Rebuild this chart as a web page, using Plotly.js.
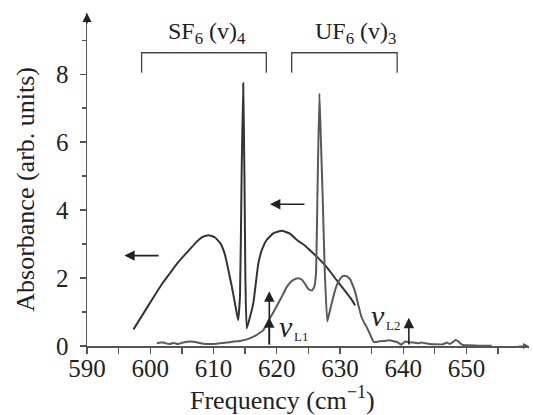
<!DOCTYPE html>
<html>
<head>
<meta charset="utf-8">
<script src="https://cdn.plot.ly/plotly-3.0.1.min.js"></script>
<style>html,body{margin:0;padding:0;background:#fff;}#chart{width:533px;height:415px;}</style>
</head>
<body>
<div id="chart"></div>
<script>
// Curve A: SF6-dominated broad band with sharp feature
const freqA = [597.35,598.93,600.5,602.1,603.1,604.5,605.8,607.1,608.15,609.2,610.2,611.1,611.8,612.35,612.9,613.4,613.9,614.2,614.45,614.7,614.9,615.05,615.26,615.7,616.3,617.1,617.7,618.4,619.5,620.8,622.1,623.2,624.5,625.0,626.5,628.0,629.5,630.8,631.8,632.4];
const absA  = [0.49,0.96,1.43,1.89,2.14,2.48,2.75,3.02,3.2,3.26,3.20,3.02,2.70,2.24,1.75,1.26,0.76,1.5,5.0,7.73,5.0,2.0,0.52,0.8,1.26,2.43,2.85,3.12,3.32,3.39,3.31,3.12,2.95,2.86,2.6,2.3,1.93,1.62,1.38,1.2];
// Curve B: UF6-dominated band
const freqB = [601.05,601.6,602.1,602.6,603.1,603.6,603.9,604.4,605.2,606.3,607.1,608.0,608.7,610.0,611.0,612.1,613.2,614.2,615.0,615.8,616.8,617.5,617.9,618.4,618.9,619.5,620.25,621.0,621.6,622.3,623.0,623.5,624.0,624.5,625.0,625.5,625.9,626.2,626.45,626.75,627.0,627.3,627.6,628.0,628.3,628.7,629.1,629.5,630.0,630.5,631.1,631.6,632.0,632.4,632.9,633.4,633.8,634.2,634.8,635.3,635.8,636.3,637.0,637.9,638.5,639.0,639.7,640.3,641.0,641.6,642.3,642.9,643.5,644.2,645.3,646.3,646.9,647.4,647.9,648.3,648.7,649.0,649.5,650.5,652,654];
const absB  = [0.08,0.1,0.1,0.07,0.06,0.09,0.08,0.06,0.1,0.13,0.12,0.08,0.06,0.06,0.08,0.1,0.13,0.15,0.18,0.23,0.32,0.41,0.47,0.64,0.81,1.0,1.26,1.52,1.74,1.9,1.98,1.99,1.95,1.82,1.68,1.63,1.72,2.1,4.5,7.43,6.0,4.2,2.2,0.72,0.95,1.26,1.55,1.79,1.97,2.06,2.05,1.97,1.8,1.6,1.21,0.86,0.7,0.57,0.33,0.13,0.12,0.14,0.15,0.17,0.14,0.12,0.04,0.13,0.11,0.1,0.08,0.1,0.08,0.06,0.05,0.05,0.1,0.06,0.12,0.18,0.14,0.08,0.03,0.02,0.01,0.01];

// Labels and annotation anchors
const xTicks = [590,600,610,620,630,640,650];
const yTicks = [0,2,4,6,8];
const bandLabels = ['SF<sub>6</sub> (v)<sub>4</sub>', 'UF<sub>6</sub> (v)<sub>3</sub>'];
const bandCenters = [608.9, 632.4];
const bracketSF = [598.64, 618.36];
const bracketUF = [622.37, 639.05];
const laserLines = [618.83, 640.9];
const laserLabels = ['L1','L2'];

const FONT = "'Liberation Serif', 'Times New Roman', Times, serif";
const AX = '#555';

const traces = [
  {x: freqA, y: absA, mode: 'lines', line: {color: '#333', width: 2, shape: 'spline', smoothing: 0.4}, hoverinfo: 'skip'},
  {x: freqB, y: absB, mode: 'lines', line: {color: '#595959', width: 2, shape: 'spline', smoothing: 0.4}, hoverinfo: 'skip'}
];

function bracket(xs) {
  return {type: 'path', xref: 'x', yref: 'y',
    path: `M${xs[0]},8.04 L${xs[0]},8.63 L${xs[1]},8.63 L${xs[1]},8.04`,
    line: {color: '#444', width: 1.3}};
}

const ann = [];
bandLabels.forEach((t, i) => ann.push({x: bandCenters[i], y: 9.2, xref: 'x', yref: 'y', text: t, showarrow: false,
  font: {family: FONT, size: 24, color: '#222'}, xanchor: 'center', yanchor: 'middle'}));
ann.push({x: 595.9, y: 2.66, ax: 601.56, ay: 2.66, axref: 'x', ayref: 'y', xref: 'x', yref: 'y', text: '', showarrow: true,
  arrowhead: 2, arrowsize: 1.3, arrowwidth: 1.6, arrowcolor: '#222', standoff: 0, startstandoff: 0});
ann.push({x: 618.94, y: 4.17, ax: 624.63, ay: 4.17, axref: 'x', ayref: 'y', xref: 'x', yref: 'y', text: '', showarrow: true,
  arrowhead: 2, arrowsize: 1.3, arrowwidth: 1.6, arrowcolor: '#222', standoff: 0, startstandoff: 0});
ann.push({x: laserLines[0], y: 1.61, ax: laserLines[0], ay: 0, axref: 'x', ayref: 'y', xref: 'x', yref: 'y', text: '', showarrow: true,
  arrowhead: 2, arrowsize: 1.3, arrowwidth: 1.6, arrowcolor: '#222', standoff: 0});
ann.push({x: laserLines[0], y: 0.84, ax: laserLines[0], ay: 0, axref: 'x', ayref: 'y', xref: 'x', yref: 'y', text: '', showarrow: true,
  arrowhead: 2, arrowsize: 1.3, arrowwidth: 1.6, arrowcolor: '#222', standoff: 0});
ann.push({x: laserLines[1], y: 0.83, ax: laserLines[1], ay: 0, axref: 'x', ayref: 'y', xref: 'x', yref: 'y', text: '', showarrow: true,
  arrowhead: 2, arrowsize: 1.3, arrowwidth: 1.6, arrowcolor: '#222', standoff: 0});
const vPos = [[620.1, 0.57], [634.6, 0.9]];
const subPos = [[622.35, 0.28], [636.95, 0.6]];
laserLabels.forEach((t, i) => {
  ann.push({x: vPos[i][0], y: vPos[i][1], xref: 'x', yref: 'y', text: '<i>v</i>', showarrow: false,
    font: {family: FONT, size: 30, color: '#222'}, xanchor: 'left', yanchor: 'middle'});
  ann.push({x: subPos[i][0], y: subPos[i][1], xref: 'x', yref: 'y', text: t, showarrow: false,
    font: {family: FONT, size: 13, color: '#222'}, xanchor: 'left', yanchor: 'middle'});
});
ann.push({x: 590, y: 9.8, xref: 'x', yref: 'y', ax: 0, ay: 12, text: '', showarrow: true,
  arrowhead: 2, arrowsize: 1.2, arrowwidth: 1.5, arrowcolor: '#222', standoff: 0});
ann.push({x: 1, xref: 'paper', y: 0, yref: 'y', ax: -12, ay: 0, text: '', showarrow: true,
  arrowhead: 2, arrowsize: 1.0, arrowwidth: 1.2, arrowcolor: '#555', standoff: 0});
ann.push({x: -0.1397, y: 0.47, xref: 'paper', yref: 'paper', text: 'Absorbance (arb. units)', textangle: -90, showarrow: false,
  font: {family: FONT, size: 26, color: '#222'}, xanchor: 'center', yanchor: 'middle'});
ann.push({x: 0.4423, y: -0.158, xref: 'paper', yref: 'paper', text: 'Frequency (cm<sup>−1</sup>)', showarrow: false,
  font: {family: FONT, size: 26, color: '#222'}, xanchor: 'center', yanchor: 'middle'});

const layout = {
  width: 533, height: 415,
  margin: {l: 86.8, r: 3.7, t: 12.8, b: 69},
  paper_bgcolor: '#fff', plot_bgcolor: '#fff',
  showlegend: false,
  font: {family: FONT, size: 25, color: '#222'},
  xaxis: {range: [590, 659.9], tickvals: xTicks, ticktext: xTicks.map(String), ticks: 'outside', ticklen: 6, tickwidth: 1.3, tickcolor: AX,
    showline: true, linecolor: AX, linewidth: 1.5, showgrid: false, zeroline: false, ticklabelstandoff: -7,
    minor: {dtick: 5, tick0: 590, ticks: 'outside', ticklen: 6, tickwidth: 1.3, tickcolor: AX, showgrid: false},
    tickfont: {family: FONT, size: 25, color: '#222'}},
  yaxis: {range: [0, 9.8], tickvals: yTicks, ticktext: yTicks.map(String), ticks: 'outside', ticklen: 6, tickwidth: 1.3, tickcolor: AX,
    showline: true, linecolor: AX, linewidth: 1.5, showgrid: false, zeroline: false, ticklabelstandoff: 6,
    minor: {dtick: 2, tick0: 1, ticks: 'outside', ticklen: 4, tickwidth: 1.3, tickcolor: AX, showgrid: false},
    tickfont: {family: FONT, size: 25, color: '#222'}},
  shapes: [bracket(bracketSF), bracket(bracketUF)],
  annotations: ann
};

Plotly.newPlot('chart', traces, layout, {staticPlot: true, displayModeBar: false});
</script>
</body>
</html>
